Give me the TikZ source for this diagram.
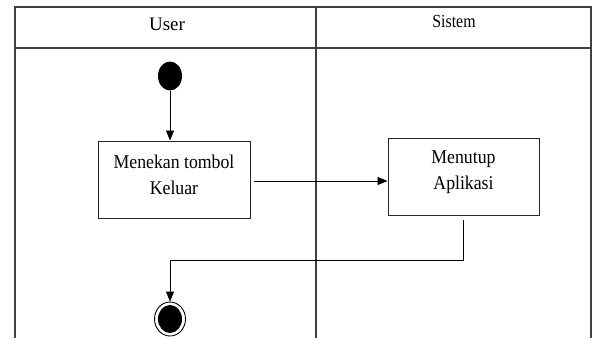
\documentclass[tikz,border=0pt]{standalone}
\usepackage{fontspec}
\setmainfont{Liberation Serif}
\newfontfamily\condA[FakeStretch=0.91]{Liberation Serif}
\newfontfamily\condB[FakeStretch=0.86]{Liberation Serif}
\usetikzlibrary{arrows.meta,shapes.geometric}
\begin{document}
\begin{tikzpicture}[x=1pt,y=-1pt,
  frame/.style={draw=black!75, line width=1.4pt},
  act/.style={draw=black!85, line width=1pt, inner sep=0pt},
  acttext/.style={font=\condA\fontsize{19.5}{26}\selectfont, align=center, inner sep=0pt},
  flow/.style={-{Triangle[length=10pt,width=8pt]}, line width=0.9pt},
  lane/.style={inner sep=0pt}]
\useasboundingbox (0,0) rectangle (596,338);
% swimlane frame
\draw[frame] (15,338) -- (15,7) -- (591,7) -- (591,338);
\draw[frame] (15,48) -- (591,48);
\draw[frame] (316,7) -- (316,338);
\node[lane, font=\fontsize{19}{20}\selectfont] (user) at (167,24) {User};
\node[lane, font=\condB\fontsize{18.5}{20}\selectfont] (sistem) at (454,21) {Sistem};
% start
\node[ellipse, fill=black, minimum width=24pt, minimum height=29pt, inner sep=0pt] (start) at (170,76) {};
% activities
\node[act, minimum width=152pt, minimum height=77pt] (a1) at (174,179.5) {};
\node[acttext] (t1) at (174,175) {Menekan tombol\\Keluar};
\node[act, minimum width=151pt, minimum height=77pt] (a2) at (463.5,176.5) {};
\node[acttext] (t2) at (463.5,172) {Menutup\\Aplikasi};
% end
\node[ellipse, draw=black, line width=0.9pt, minimum width=31pt, minimum height=34pt, inner sep=0pt] (end) at (170,319) {};
\node[ellipse, fill=black, minimum width=24pt, minimum height=28pt, inner sep=0pt] (endin) at (170,319) {};
% flows
\draw[flow] (start.south) -- (start.south |- a1.north);
\draw[flow] ([shift={(3pt,-1.5pt)}]a1.east) -- ([yshift=-1.5pt]a1.east -| a2.west);
\coordinate (turn) at (170,260);
\draw[flow] ([yshift=-4pt]a2.south) |- (turn) -- (end.north);
\end{tikzpicture}
\end{document}
